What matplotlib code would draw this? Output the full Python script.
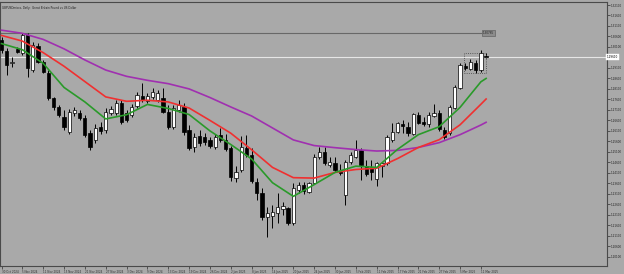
import numpy as np
import matplotlib.pyplot as plt
from matplotlib.patches import Rectangle

# daily GBPUSD candles, 30 Oct 2024 .. 12 Mar 2025
opens = [1.3043, 1.2991, 1.2932, 1.2999, 1.2981, 1.3067, 1.2900, 1.3015, 1.2940, 1.2884,
         1.2767, 1.2724, 1.2676, 1.2605, 1.2695, 1.2697, 1.2671, 1.2600, 1.2567, 1.2629,
         1.2614, 1.2695, 1.2695, 1.2743, 1.2695, 1.2686, 1.2729, 1.2776, 1.2754, 1.2772,
         1.2757, 1.2767, 1.2700, 1.2629, 1.2710, 1.2724, 1.2614, 1.2533, 1.2586, 1.2581,
         1.2567, 1.2533, 1.2590, 1.2567, 1.2528, 1.2385, 1.2424, 1.2528, 1.2495, 1.2366,
         1.2314, 1.2200, 1.2204, 1.2219, 1.2238, 1.2242, 1.2171, 1.2328, 1.2352, 1.2319,
         1.2362, 1.2486, 1.2509, 1.2447, 1.2457, 1.2419, 1.2304, 1.2462, 1.2486, 1.2519,
         1.2443, 1.2438, 1.2381, 1.2443, 1.2457, 1.2567, 1.2605, 1.2643, 1.2629, 1.2595,
         1.2686, 1.2652, 1.2643, 1.2681, 1.2695, 1.2614, 1.2600, 1.2719, 1.2814, 1.2919,
         1.2905, 1.2934, 1.2900, 1.2968]
highs = [1.3057, 1.3005, 1.2964, 1.3011, 1.3078, 1.3078, 1.3035, 1.3027, 1.2948, 1.2900,
         1.2770, 1.2733, 1.2710, 1.2714, 1.2722, 1.2710, 1.2686, 1.2614, 1.2643, 1.2652,
         1.2719, 1.2729, 1.2757, 1.2757, 1.2710, 1.2738, 1.2797, 1.2838, 1.2791, 1.2814,
         1.2805, 1.2814, 1.2733, 1.2733, 1.2757, 1.2743, 1.2638, 1.2600, 1.2614, 1.2600,
         1.2581, 1.2595, 1.2624, 1.2595, 1.2538, 1.2443, 1.2586, 1.2590, 1.2528, 1.2385,
         1.2338, 1.2247, 1.2257, 1.2314, 1.2271, 1.2247, 1.2362, 1.2366, 1.2366, 1.2366,
         1.2500, 1.2533, 1.2533, 1.2486, 1.2486, 1.2452, 1.2471, 1.2509, 1.2567, 1.2528,
         1.2471, 1.2471, 1.2462, 1.2462, 1.2590, 1.2648, 1.2652, 1.2662, 1.2652, 1.2695,
         1.2700, 1.2676, 1.2700, 1.2738, 1.2710, 1.2629, 1.2733, 1.2829, 1.2934, 1.2934,
         1.2953, 1.2948, 1.2996, 1.2981]
lows = [1.2981, 1.2876, 1.2916, 1.2980, 1.2972, 1.2868, 1.2892, 1.2934, 1.2884, 1.2757,
        1.2710, 1.2678, 1.2614, 1.2595, 1.2681, 1.2662, 1.2581, 1.2519, 1.2552, 1.2595,
        1.2600, 1.2686, 1.2686, 1.2643, 1.2652, 1.2676, 1.2719, 1.2748, 1.2743, 1.2762,
        1.2748, 1.2695, 1.2619, 1.2619, 1.2700, 1.2590, 1.2519, 1.2509, 1.2538, 1.2543,
        1.2528, 1.2524, 1.2557, 1.2514, 1.2371, 1.2368, 1.2414, 1.2486, 1.2362, 1.2281,
        1.2185, 1.2104, 1.2147, 1.2171, 1.2209, 1.2161, 1.2161, 1.2314, 1.2309, 1.2314,
        1.2357, 1.2476, 1.2447, 1.2438, 1.2414, 1.2400, 1.2257, 1.2452, 1.2481, 1.2376,
        1.2395, 1.2376, 1.2347, 1.2390, 1.2447, 1.2557, 1.2600, 1.2600, 1.2586, 1.2590,
        1.2643, 1.2633, 1.2629, 1.2676, 1.2609, 1.2571, 1.2590, 1.2714, 1.2810, 1.2900,
        1.2900, 1.2884, 1.2892, 1.2957]
closes = [1.2996, 1.2924, 1.2940, 1.2987, 1.3067, 1.2910, 1.3019, 1.2940, 1.2892, 1.2765,
          1.2724, 1.2686, 1.2629, 1.2700, 1.2710, 1.2671, 1.2590, 1.2533, 1.2624, 1.2609,
          1.2700, 1.2714, 1.2743, 1.2652, 1.2662, 1.2724, 1.2781, 1.2757, 1.2776, 1.2797,
          1.2791, 1.2700, 1.2629, 1.2719, 1.2733, 1.2605, 1.2528, 1.2581, 1.2552, 1.2557,
          1.2538, 1.2581, 1.2567, 1.2524, 1.2390, 1.2414, 1.2533, 1.2495, 1.2371, 1.2314,
          1.2200, 1.2219, 1.2223, 1.2247, 1.2252, 1.2171, 1.2338, 1.2352, 1.2324, 1.2362,
          1.2486, 1.2509, 1.2457, 1.2462, 1.2424, 1.2409, 1.2462, 1.2495, 1.2519, 1.2447,
          1.2405, 1.2414, 1.2457, 1.2457, 1.2581, 1.2605, 1.2648, 1.2633, 1.2600, 1.2690,
          1.2648, 1.2643, 1.2686, 1.2695, 1.2619, 1.2581, 1.2724, 1.2819, 1.2924, 1.2910,
          1.2938, 1.2900, 1.2981, 1.2961]

# moving averages at every 4th bar
ma_idx = [0, 4, 8, 12, 16, 20, 24, 28, 32, 36, 40, 44, 48, 52, 56, 60, 64, 68, 72, 76,
          80, 84, 88, 92, 93]
ma_slow = [1.3090, 1.3075, 1.3046, 1.3001, 1.2948, 1.2900, 1.2870, 1.2851, 1.2835, 1.2810,
           1.2769, 1.2724, 1.2681, 1.2624, 1.2567, 1.2540, 1.2530, 1.2521, 1.2514, 1.2517,
           1.2531, 1.2554, 1.2592, 1.2638, 1.2651]
ma_mid = [1.3065, 1.3038, 1.2983, 1.2918, 1.2845, 1.2772, 1.2751, 1.2756, 1.2748, 1.2719,
          1.2660, 1.2599, 1.2520, 1.2436, 1.2387, 1.2385, 1.2412, 1.2426, 1.2432, 1.2478,
          1.2531, 1.2568, 1.2639, 1.2737, 1.2762]
ma_fast = [1.3026, 1.2997, 1.2932, 1.2817, 1.2748, 1.2667, 1.2687, 1.2736, 1.2717, 1.2688,
           1.2610, 1.2545, 1.2476, 1.2363, 1.2298, 1.2354, 1.2412, 1.2442, 1.2436, 1.2522,
           1.2592, 1.2630, 1.2722, 1.2844, 1.2860]

date_labels = ['30 Oct 2024', '5 Nov 2024', '11 Nov 2024', '15 Nov 2024', '21 Nov 2024',
               '27 Nov 2024', '3 Dec 2024', '9 Dec 2024', '13 Dec 2024', '19 Dec 2024',
               '26 Dec 2024', '2 Jan 2025', '8 Jan 2025', '14 Jan 2025', '20 Jan 2025',
               '24 Jan 2025', '30 Jan 2025', '5 Feb 2025', '11 Feb 2025', '17 Feb 2025',
               '21 Feb 2025', '27 Feb 2025', '5 Mar 2025', '11 Mar 2025']
# price scale labels; the one under the current-price tag is hidden
price_ticks = [1.32100, 1.31600, 1.31100, 1.30600, 1.30100, 1.29100, 1.28600, 1.28100,
               1.27600, 1.27100, 1.26600, 1.26100, 1.25600, 1.25100, 1.24600, 1.24100,
               1.23600, 1.23100, 1.22600, 1.22100, 1.21600, 1.21100, 1.20600, 1.20100]
hline_price = 1.30765

bg = '#a9a9a9'
fig = plt.figure(figsize=(6.24, 2.74), dpi=100, facecolor=bg)
ax = fig.add_axes([0.0, 8 / 274, 607 / 624, 264 / 274], facecolor=bg)

o = np.array(opens); h = np.array(highs); l = np.array(lows); c = np.array(closes)
x = np.arange(len(o))
up = c >= o

ax.vlines(x, l, h, color='black', lw=0.7, zorder=3)
ax.bar(x[up], (c - o)[up], bottom=o[up], width=0.62, color='white',
       edgecolor='black', lw=0.5, zorder=4)
ax.bar(x[~up], (o - c)[~up], bottom=c[~up], width=0.62, color='black',
       edgecolor='black', lw=0.5, zorder=4)

ax.plot(ma_idx, ma_slow, color='#a030b0', lw=1.2, zorder=5)
ax.plot(ma_idx, ma_mid, color='#f03030', lw=1.2, zorder=5)
ax.plot(ma_idx, ma_fast, color='#2a9a2a', lw=1.2, zorder=5)

# horizontal line object with its price tag
ax.hlines(hline_price, -1, 92.3, color='#686868', lw=0.8, zorder=2)
ax.text(92.4, hline_price, '%.5f' % hline_price, fontsize=2, color='#202020',
        va='center', ha='left', zorder=6,
        bbox=dict(boxstyle='square,pad=0.3', fc='#8c8c8c', ec='#555555', lw=0.4))

# current price line
ax.axhline(c[-1], color='#e6e6e6', lw=0.8, zorder=1)

# dotted selection box round the last bars
ax.add_patch(Rectangle((88.7, 1.2886), 4.2, 0.0095, fill=False, ls=':',
                       ec='#404040', lw=0.6, zorder=6))

ax.set_xlim(-0.29, 116.2)
ax.set_ylim(1.19660, 1.32243)

ax.yaxis.tick_right()
ax.set_yticks(price_ticks)
ax.set_yticklabels(['%.5f' % p for p in price_ticks])
ax.set_xticks(ma_idx[:-1])
ax.set_xticklabels(date_labels, ha='left')
ax.tick_params(axis='both', labelsize=2, colors='#303030', length=2, width=0.5, pad=0.8)
ax.tick_params(axis='y', labelcolor='#202020')

ax.text(1.0, c[-1], '%.5f' % c[-1], transform=ax.get_yaxis_transform(), fontsize=2,
        color='black', va='center', ha='left', zorder=7, clip_on=False,
        bbox=dict(boxstyle='square,pad=0.3', fc='white', ec='white', lw=0.3))

for s in ax.spines.values():
    s.set_color('#4a4a4a')
    s.set_linewidth(0.8)

ax.text(0.004, 0.985, 'GBPUSDmicro, Daily:  Great Britain Pound vs US Dollar',
        transform=ax.transAxes, fontsize=2, color='#202020', va='top', ha='left')

fig.savefig('out.png', dpi=100, facecolor=bg)
